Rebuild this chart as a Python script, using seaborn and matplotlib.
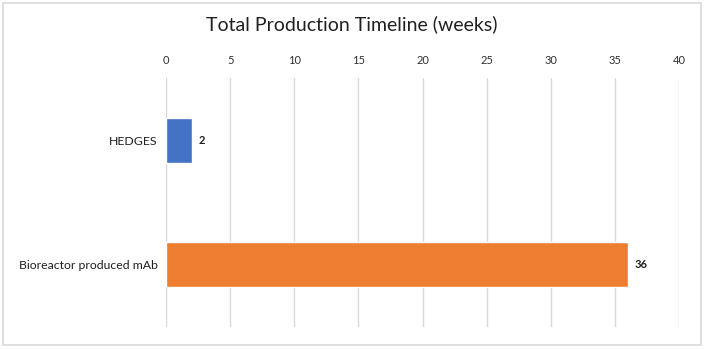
import matplotlib
matplotlib.use('Agg')
import matplotlib.pyplot as plt
import seaborn as sns
import pandas as pd

# data
categories=['HEDGES','Bioreactor produced mAb']
weeks=[2,36]
bar_colors=['#4472C4','#ED7D31']
x_ticks=[0,5,10,15,20,25,30,35,40]

sns.set_style('white')
plt.rcParams['font.family']=['Lato','DejaVu Sans']

df=pd.DataFrame({'category':categories,'weeks':weeks})

fig=plt.figure(figsize=(7.04,3.49),dpi=100)
ax=fig.add_axes([0.2358,0.063,0.7287,0.7135])
sns.barplot(data=df,x='weeks',y='category',hue='category',palette=bar_colors,
            orient='h',width=0.36,legend=False,ax=ax,saturation=1)

ax.set_xlim(0,40)
ax.set_ylim(1.5,-0.5)
ax.set_xticks(x_ticks)
ax.xaxis.tick_top()
ax.tick_params(axis='x',length=0,pad=9,labelsize=8,labelcolor='#303030')
ax.tick_params(axis='y',length=0,pad=6,labelsize=8.8,labelcolor='#202020')
ax.grid(axis='x',color='#D9D9D9',linewidth=1)
ax.set_axisbelow(True)
for s in ax.spines.values():
    s.set_visible(False)
ax.set_xlabel('')
ax.set_ylabel('')

for i,v in enumerate(weeks):
    ax.text(v+0.55,i,str(v),va='center',ha='left',fontsize=8,color='#202020',fontweight='bold')

fig.text(0.5,0.93,'Total Production Timeline (weeks)',ha='center',va='center',fontsize=14,color='#202020')

# light frame around the chart
fig.patches.append(plt.Rectangle((0.004,0.012),0.992,0.978,transform=fig.transFigure,
                                 fill=False,edgecolor='#D9D9D9',linewidth=1.2))

plt.savefig('out.png',dpi=100)
